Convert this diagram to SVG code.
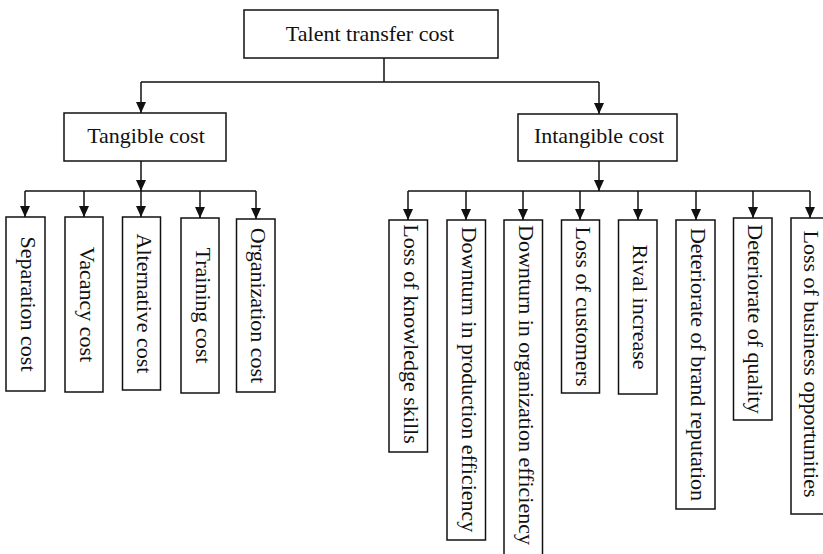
<svg xmlns="http://www.w3.org/2000/svg" width="823" height="554" viewBox="0 0 823 554">
  <style>
    .box { fill: #fff; stroke: #111; stroke-width: 1.5; }
    .open { fill: none; stroke: #111; stroke-width: 1.5; }
    .wire { fill: none; stroke: #111; stroke-width: 1.5; }
    .lbl { font-family: "Liberation Serif", "Times New Roman", serif; font-size: 22px; fill: #111; }
    .mid { text-anchor: middle; }
  </style>
  <defs>
    <marker id="arrow" markerUnits="userSpaceOnUse" markerWidth="11" markerHeight="10" refX="11" refY="5" orient="auto">
      <path d="M0,0 L11,5 L0,10 z" fill="#111"/>
    </marker>
  </defs>
  <rect width="823" height="554" fill="#fff"/>

  <!-- connectors -->
  <g id="connectors">
    <!-- root to level 1 -->
    <path class="wire" d="M384,58 V82 M141,82 H599"/>
    <path class="wire" d="M141,82 V113" marker-end="url(#arrow)"/>
    <path class="wire" d="M599,82 V114" marker-end="url(#arrow)"/>
    <!-- tangible branch -->
    <path class="wire" d="M141,161 V191" marker-end="url(#arrow)"/>
    <path class="wire" d="M25,191 H256"/>
    <path class="wire" d="M25,191 V217" marker-end="url(#arrow)"/>
    <path class="wire" d="M84,191 V217" marker-end="url(#arrow)"/>
    <path class="wire" d="M141,191 V217" marker-end="url(#arrow)"/>
    <path class="wire" d="M200,191 V218" marker-end="url(#arrow)"/>
    <path class="wire" d="M256,191 V219" marker-end="url(#arrow)"/>
    <!-- intangible branch -->
    <path class="wire" d="M599,161 V191" marker-end="url(#arrow)"/>
    <path class="wire" d="M408,191 H810"/>
    <path class="wire" d="M408,191 V220" marker-end="url(#arrow)"/>
    <path class="wire" d="M466,191 V220" marker-end="url(#arrow)"/>
    <path class="wire" d="M523,191 V220" marker-end="url(#arrow)"/>
    <path class="wire" d="M580,191 V220" marker-end="url(#arrow)"/>
    <path class="wire" d="M638,191 V220" marker-end="url(#arrow)"/>
    <path class="wire" d="M696,191 V220" marker-end="url(#arrow)"/>
    <path class="wire" d="M753,191 V218" marker-end="url(#arrow)"/>
    <path class="wire" d="M810,191 V218" marker-end="url(#arrow)"/>
  </g>

  <!-- root -->
  <g id="talent-transfer-cost">
    <rect class="box" x="244" y="10" width="254" height="48"/>
    <text class="lbl mid" x="370" y="41">Talent transfer cost</text>
  </g>

  <!-- level 1 -->
  <g id="tangible-cost">
    <rect class="box" x="64" y="113" width="162" height="48"/>
    <text class="lbl mid" x="146" y="143">Tangible cost</text>
  </g>
  <g id="intangible-cost">
    <rect class="box" x="518" y="114" width="159" height="47"/>
    <text class="lbl mid" x="599" y="143">Intangible cost</text>
  </g>

  <!-- tangible items -->
  <g id="separation-cost">
    <rect class="box" x="6" y="217" width="39" height="174"/>
    <text class="lbl mid" transform="translate(21,304) rotate(90)">Separation cost</text>
  </g>
  <g id="vacancy-cost">
    <rect class="box" x="65" y="217" width="38" height="175"/>
    <text class="lbl mid" transform="translate(79.5,304.5) rotate(90)">Vacancy cost</text>
  </g>
  <g id="alternative-cost">
    <rect class="box" x="122.5" y="217" width="38" height="173"/>
    <text class="lbl mid" transform="translate(137,303.5) rotate(90)">Alternative cost</text>
  </g>
  <g id="training-cost">
    <rect class="box" x="181" y="218" width="38" height="175"/>
    <text class="lbl mid" transform="translate(195.5,305.5) rotate(90)">Training cost</text>
  </g>
  <g id="organization-cost">
    <rect class="box" x="236.5" y="219" width="38.5" height="173"/>
    <text class="lbl mid" transform="translate(251,305.5) rotate(90)">Organization cost</text>
  </g>

  <!-- intangible items -->
  <g id="loss-of-knowledge-skills">
    <rect class="box" x="389" y="220" width="38.5" height="232"/>
    <text class="lbl mid" transform="translate(403.5,334) rotate(90)">Loss of knowledge skills</text>
  </g>
  <g id="downturn-in-production-efficiency">
    <rect class="box" x="447" y="220" width="38.5" height="320"/>
    <text class="lbl mid" transform="translate(461.5,379.5) rotate(90)">Downturn in production efficiency</text>
  </g>
  <g id="downturn-in-organization-efficiency">
    <path class="open" d="M504,560 V220 H542.5 V560"/>
    <text class="lbl" transform="translate(518.5,225) rotate(90)">Downturn in organization efficiency</text>
  </g>
  <g id="loss-of-customers">
    <rect class="box" x="561.5" y="220" width="38" height="173"/>
    <text class="lbl mid" transform="translate(576,306.5) rotate(90)">Loss of customers</text>
  </g>
  <g id="rival-increase">
    <rect class="box" x="618.5" y="220" width="38.5" height="174"/>
    <text class="lbl mid" transform="translate(633,307) rotate(90)">Rival increase</text>
  </g>
  <g id="deteriorate-of-brand-reputation">
    <rect class="box" x="676" y="220" width="39" height="289"/>
    <text class="lbl mid" transform="translate(690.5,364.5) rotate(90)">Deteriorate of brand reputation</text>
  </g>
  <g id="deteriorate-of-quality">
    <rect class="box" x="733.5" y="218" width="38.5" height="202"/>
    <text class="lbl mid" transform="translate(748,319) rotate(90)">Deteriorate of quality</text>
  </g>
  <g id="loss-of-business-opportunities">
    <rect class="box" x="791" y="218" width="40" height="296"/>
    <text class="lbl mid" transform="translate(803.5,364) rotate(90)">Loss of business opportunities</text>
  </g>
</svg>
